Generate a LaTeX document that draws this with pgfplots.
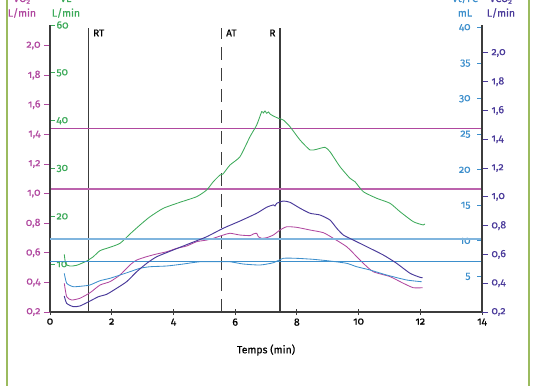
\documentclass[border=0pt]{standalone}
\usepackage{pgfplots}
\pgfplotsset{compat=1.18}
\usepackage{fontspec}
\setmainfont{Fira Sans}[Numbers=OldStyle,UprightFeatures={FakeBold=0.6}]
\definecolor{cvo}{HTML}{B0479F}
\definecolor{cve}{HTML}{3DAA5A}
\definecolor{cvt}{HTML}{3D8FCC}
\definecolor{cvtl}{HTML}{80B5DE}
\definecolor{cvco}{HTML}{4A3A9A}
\definecolor{cbord}{HTML}{9BBB5F}
\definecolor{vline}{HTML}{3C3C3C}
\pgfplotsset{
  common/.style={width=432bp,height=287bp,scale only axis,at={(0,0)},anchor=south west,
    xmin=0,xmax=14,
    /pgf/number format/assume math mode=true,
    tick label style={font=\fontsize{10.5}{12}\selectfont},
    axis line style={vline,line width=1.3pt},
    major tick length=5bp},
  yfmt/.style={yticklabel style={/pgf/number format/use comma,/pgf/number format/fixed,/pgf/number format/fixed zerofill,/pgf/number format/precision=1}},
  curve/.style={line width=0.85pt,smooth,tension=0.35,no marks},
}
\begin{document}
\begin{tikzpicture}
% x axis, markers
\begin{axis}[common, axis x line*=bottom, axis y line=none, ymin=0.2, ymax=2.139,
  xtick={0,2,4,6,8,10,12,14}, tick align=center, major tick length=6bp,
  xtick style={vline,line width=0.9pt},
  xlabel={Temps (min)},
  every axis x label/.style={at={(axis description cs:0.5,0)},anchor=center,yshift=-38bp,font=\fontsize{10.5}{12}\selectfont}]
\addplot[vline,line width=1.4pt] coordinates {(1.254,0.2) (1.254,2.119)};
\addplot[vline,line width=1.4pt,dash pattern=on 13bp off 8bp] coordinates {(5.564,0.2) (5.564,2.119)};
\addplot[vline,line width=1.4pt] coordinates {(7.454,0.2) (7.454,2.119)};
\node[anchor=west,font=\fontsize{10}{12}\selectfont,xshift=1bp] at (axis cs:1.254,2.085) {RT};
\node[anchor=west,font=\fontsize{10}{12}\selectfont,xshift=1bp] at (axis cs:5.564,2.085) {AT};
\node[anchor=east,font=\fontsize{10}{12}\selectfont,xshift=-1bp] at (axis cs:7.454,2.085) {R};
\end{axis}
% VO2
\begin{axis}[common, yfmt, axis x line=none, axis y line*=left, ymin=0.2, ymax=2.139,
  ytick={0.2,0.4,0.6,0.8,1.0,1.2,1.4,1.6,1.8,2.0}, tick align=outside, major tick length=6bp,
  ytick style={cvo,line width=0.9pt}, yticklabel style={text=cvo}]
\addplot[cvo,line width=1.0pt] coordinates {(0,1.443) (14,1.443)};
\addplot[cvo!85,line width=1.2pt] coordinates {(0,1.031) (14,1.031)};
\addplot[curve,cvo] coordinates {
(0.463,0.394) (0.541,0.303) (0.703,0.281) (0.972,0.293) (1.296,0.330) (1.620,0.382)
(1.944,0.405) (2.269,0.450) (2.593,0.518) (2.810,0.551) (3.134,0.574) (3.458,0.592)
(3.782,0.607) (4.106,0.630) (4.430,0.646) (4.754,0.675) (5.078,0.686) (5.292,0.698)
(5.616,0.720) (5.833,0.732) (6.157,0.720) (6.481,0.716) (6.588,0.727) (6.699,0.732)
(6.750,0.709) (6.861,0.698) (7.023,0.702) (7.237,0.720) (7.454,0.754) (7.671,0.776)
(7.995,0.772) (8.426,0.754) (8.857,0.736) (9.181,0.698) (9.615,0.641) (9.939,0.574)
(10.153,0.529) (10.477,0.472) (11.019,0.439) (11.450,0.394) (11.774,0.364) (12.078,0.364)};
\end{axis}
% VE
\begin{axis}[common, axis x line=none, axis y line*=left, ymin=0, ymax=60,
  ytick={10,20,30,40,50,60}, tick align=inside, major tick length=5bp,
  ytick style={cve,line width=0.9pt},
  yticklabel style={text=cve,anchor=west,xshift=3bp}]
\addplot[curve,cve] coordinates {
(0.463,12.06) (0.509,10.04) (0.648,9.61) (0.865,9.76) (1.189,10.66) (1.403,11.56)
(1.620,12.82) (1.944,13.53) (2.269,14.36) (2.593,16.31) (2.917,18.19) (3.241,19.92)
(3.672,21.68) (4.213,22.94) (4.754,24.11) (5.078,25.51) (5.292,27.24) (5.509,28.64)
(5.606,28.85) (5.833,30.73) (6.157,32.47) (6.481,36.65) (6.699,39.10) (6.861,41.88)
(6.913,41.61) (6.968,42.02) (7.023,41.54) (7.081,41.82) (7.130,41.40) (7.237,40.98)
(7.399,40.50) (7.561,40.14) (7.778,38.74) (8.102,35.96) (8.426,33.87) (8.643,34.02)
(8.912,34.43) (9.074,33.51) (9.398,30.38) (9.722,27.95) (9.884,27.24) (10.153,25.15)
(10.588,23.77) (11.019,22.73) (11.343,20.97) (11.774,18.88) (12.098,18.19) (12.153,18.40)};
\end{axis}
% Vt/FC
\begin{axis}[common, axis x line=none, axis y line*=right, ymin=0, ymax=40.37,
  ytick={5,10,15,20,25,30,35,40}, tick align=inside, major tick length=5bp,
  ytick style={cvt,line width=0.9pt},
  yticklabel style={text=cvt,anchor=east,xshift=-8bp}]
\addplot[cvtl,line width=1.6pt] coordinates {(0,10.27) (14,10.27)};
\addplot[cvt,line width=1.0pt] coordinates {(0,7.17) (14,7.17)};
\addplot[curve,cvt] coordinates {
(0.463,5.44) (0.541,4.04) (0.755,3.56) (1.079,3.66) (1.296,3.80) (1.620,4.40)
(1.944,4.74) (2.269,5.20) (2.593,5.67) (2.917,6.15) (3.241,6.37) (3.782,6.47)
(4.320,6.75) (4.861,7.07) (5.509,7.07) (5.833,7.07) (6.264,6.75) (6.806,6.61)
(7.237,6.93) (7.561,7.55) (7.995,7.55) (8.533,7.41) (9.074,7.17) (9.615,6.85)
(9.939,6.37) (10.370,5.91) (10.912,5.20) (11.560,4.50) (12.046,4.26)};
\end{axis}
% VCO2
\begin{axis}[common, yfmt, axis x line=none, axis y line*=right, ymin=0.2, ymax=2.194,
  ytick={0.2,0.4,0.6,0.8,1.0,1.2,1.4,1.6,1.8,2.0}, tick align=outside, major tick length=6bp,
  ytick style={cvco,line width=0.9pt}, yticklabel style={text=cvco}]
\addplot[curve,cvco,line width=0.95pt] coordinates {
(0.463,0.311) (0.541,0.260) (0.755,0.237) (0.972,0.242) (1.296,0.276) (1.565,0.306)
(1.838,0.323) (2.162,0.365) (2.486,0.411) (2.810,0.480) (3.134,0.538) (3.458,0.584)
(3.996,0.631) (4.537,0.677) (5.078,0.723) (5.616,0.782) (6.157,0.832) (6.699,0.886)
(7.023,0.928) (7.237,0.944) (7.292,0.937) (7.347,0.955) (7.561,0.971) (7.778,0.962)
(8.102,0.921) (8.426,0.886) (8.750,0.874) (9.074,0.839) (9.291,0.782) (9.505,0.735)
(9.829,0.700) (10.263,0.654) (10.801,0.596) (11.236,0.538) (11.667,0.469) (11.991,0.441)
(12.078,0.438)};
\end{axis}
% unit labels
\node[cvo,font=\fontsize{10.5}{12}\selectfont] at (-28bp,299bp) {L/min};
\node[cve,font=\fontsize{10.5}{12}\selectfont] at (16bp,299bp) {L/min};
\node[cvt,font=\fontsize{10.5}{12}\selectfont] at (415bp,299bp) {mL};
\node[cvco,font=\fontsize{10.5}{12}\selectfont] at (451bp,299bp) {L/min};
\node[cvo,font=\fontsize{10.5}{12}\selectfont,anchor=base] at (-28bp,310bp) {\.{V}O\textsubscript{2}};
\node[cve,font=\fontsize{10.5}{12}\selectfont,anchor=base] at (16bp,310bp) {\.{V}E};
\node[cvt,font=\fontsize{10.5}{12}\selectfont,anchor=base] at (415bp,310bp) {Vt/FC};
\node[cvco,font=\fontsize{10.5}{12}\selectfont,anchor=base] at (451bp,310bp) {\.{V}CO\textsubscript{2}};
% page border lines
\draw[cbord,line width=2.3bp] (-43bp,-74bp) -- (-43bp,312bp);
\draw[cbord,line width=2.3bp] (479bp,-74bp) -- (479bp,312bp);
\pgfresetboundingbox
\path[use as bounding box] (-50bp,-74bp) rectangle (486bp,312bp);
\end{tikzpicture}
\end{document}
